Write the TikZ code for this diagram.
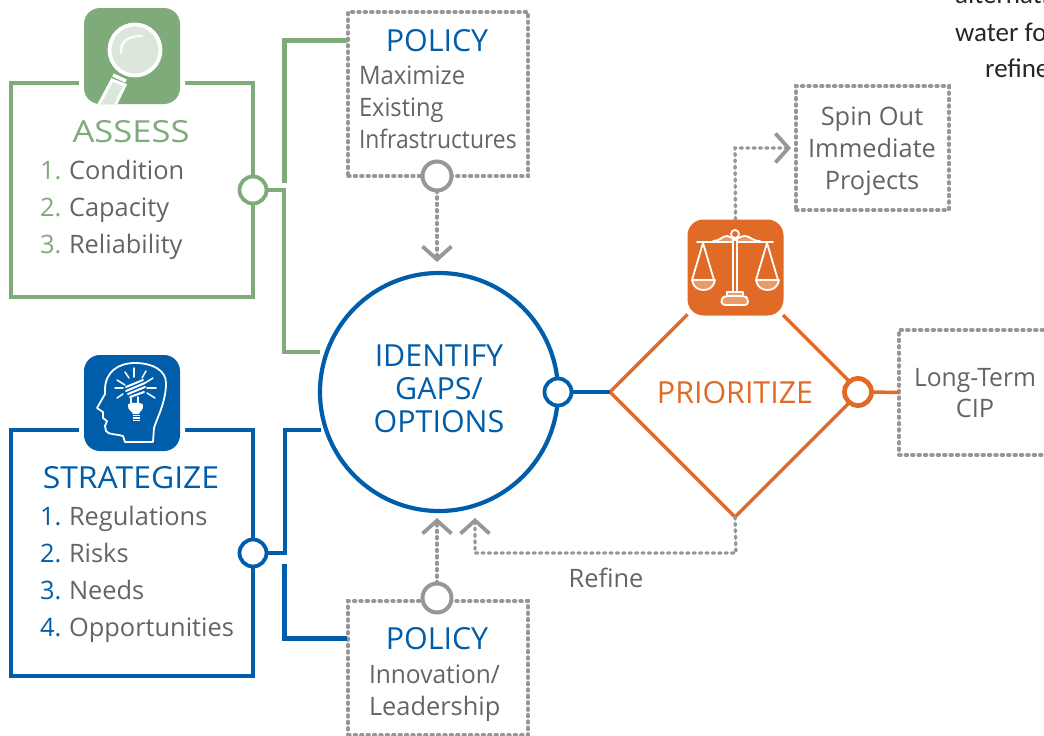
\documentclass[tikz,border=0pt]{standalone}
\usepackage{fontspec}
\setmainfont{Open Sans}
\newfontfamily\notefont{Carlito}
\usetikzlibrary{arrows.meta,shapes.geometric}
\definecolor{gr}{HTML}{7FAA7A}
\definecolor{bl}{HTML}{005DA9}
\definecolor{og}{HTML}{E06B26}
\definecolor{dg}{HTML}{97979A}
\definecolor{tx}{HTML}{636466}
\definecolor{lg}{HTML}{DCE7DC}
\definecolor{lo}{HTML}{EE9A68}
\tikzset{
 frame/.style={draw,line width=3.8pt,inner sep=0pt,outer sep=0pt,rectangle},
 dashbox/.style={draw=dg,line width=3.4pt,line cap=round,dash pattern=on 2pt off 4.4pt,inner sep=0pt,outer sep=0pt,rectangle},
 iconhalo/.style={fill=white,rounded corners=19pt,minimum size=106pt,inner sep=0pt,outer sep=0pt,rectangle},
 iconbox/.style={rounded corners=16pt,minimum size=96pt,inner sep=0pt,outer sep=0pt,rectangle},
 dot/.style={circle,draw,fill=white,inner sep=0pt,outer sep=0pt,minimum size=27pt,line width=3.8pt},
 graydot/.style={dot,draw=dg,minimum size=29pt,line width=4pt},
 conn/.style={line width=3.5pt},
 thickconn/.style={line width=5pt},
 dashconn/.style={draw=dg,line width=3.4pt,line cap=round,dash pattern=on 2pt off 4.4pt},
 barb/.style={-{Straight Barb[length=13pt,width=29pt,line width=3.8pt]}},
 body/.style={font=\fontsize{25.4}{30}\selectfont,text=tx,inner sep=0pt,outer sep=0pt},
 listrow/.style={body,anchor=base west},
 head/.style={font=\fontsize{30.4}{36}\selectfont,inner sep=0pt,outer sep=0pt,anchor=base},
 note/.style={font=\notefont\fontsize{27}{32}\selectfont,text=black!85,inner sep=0pt,anchor=base west},
 iconline/.style={draw=white,line width=1.8pt,line join=round,line cap=round},
}
\newcommand{\num}[2]{\makebox[29pt][l]{\textcolor{#1}{#2}}}
\begin{document}
\begin{tikzpicture}[x=1pt,y=-1pt]
\clip (0,0) rectangle (1044,736);
% boxes
\node[frame,draw=gr,minimum width=242pt,minimum height=214pt] (assessbox) at (132,190) {};
\node[frame,draw=bl,minimum width=242pt,minimum height=246pt] (stratbox) at (132,553) {};
\node[dashbox,minimum width=180pt,minimum height=164pt] (policya) at (438,94) {};
\node[dashbox,minimum width=180pt,minimum height=134pt] (policyb) at (438,668) {};
\node[dashbox,minimum width=153pt,minimum height=124pt] (spinbox) at (872.5,148) {};
\node[dashbox,minimum width=160pt,minimum height=125pt] (ciobox) at (979,392.5) {};
\node[circle,draw=bl,line width=4.2pt,fill=white,minimum size=238pt,inner sep=0pt,outer sep=0pt] (identify) at (439,392) {};
\node[diamond,aspect=1,draw=og,line width=3.5pt,inner sep=0pt,outer sep=0pt,minimum width=250pt,minimum height=250pt] (prio) at (735,392) {};
% dots
\node[dot,draw=gr] (adot) at (253,190) {};
\node[dot,draw=bl] (sdot) at (253,553) {};
\node[dot,draw=bl] (idot) at (558,392) {};
\node[dot,draw=og,line width=4.8pt] (pdot) at (858,392) {};
\node[graydot] (padot) at (437,176) {};
\node[graydot] (pbdot) at (437,598) {};
% icons
\node[iconhalo] (ahalo) at (132,56) {};
\node[iconbox,fill=gr] (aicon) at (132,56) {};
\node[iconhalo] (shalo) at (132,403) {};
\node[iconbox,fill=bl] (sicon) at (132,403) {};
\node[iconhalo] (phalo) at (735.5,267.5) {};
\node[iconbox,fill=og] (picon) at (735.5,267.5) {};
% named free ends
\coordinate (g1) at (284,190);
\coordinate (g2) at (284,352);
\coordinate (g3) at (320,352);
\coordinate (g4) at (284,183);
\coordinate (g5) at (284,40);
\coordinate (g6) at (347,40);
\coordinate (b1) at (285,553);
\coordinate (b2) at (285,430);
\coordinate (b3) at (321,430);
\coordinate (b4) at (284,564);
\coordinate (b5) at (284,638);
\coordinate (b6) at (347,638);
\coordinate (t1) at (437,262);
\coordinate (t2) at (437,518);
\coordinate (t3) at (475,518);
\coordinate (r1) at (736,553);
\coordinate (r2) at (475,553);
\coordinate (s1) at (735,148);
\coordinate (s2) at (791,148);
% connectors
\draw[conn,draw=gr] (adot.east) -- (g1) -- (g2) -- (g3);
\draw[thickconn,draw=gr] (g4) -- (g5) -- (g6);
\draw[conn,draw=bl] (sdot.east) -- (b1) -- (b2) -- (b3);
\draw[thickconn,draw=bl] (b4) -- (b5) -- (b6);
\draw[conn,draw=bl] (idot.east) -- (prio.west);
\draw[conn,draw=og] (pdot.east) -- (ciobox.west);
\draw[dashconn,barb] (padot.south) -- (t1);
\draw[dashconn,barb] (pbdot.north) -- (t2);
\draw[dashconn,barb] (prio.south) -- (r1) -- (r2) -- (t3);
\draw[dashconn,barb] (picon.north) -- (s1) -- (s2);
% magnifier
\begin{scope}
\clip[rounded corners=16pt] (84,8) rectangle (180,104);
\draw[white,line width=3pt,fill=lg] (112,80) -- (125,85) -- (113,110) -- (96,110) -- cycle;
\draw[white,line width=3.5pt] (113,75) -- (126,81);
\end{scope}
\draw[white,line width=3.8pt,fill=lg] (135,50) circle[radius=25.5];
\draw[white!92!lg,line width=2.2pt,line cap=round] (121,53) .. controls (120,42) and (127,36) .. (142,36);
% head
\draw[iconline] (153,442) -- (154,428) .. controls (157,418) and (166,402) .. (166,383)
  .. controls (166,370) and (152,363) .. (135,363) .. controls (118,363) and (105,372) .. (105,390)
  -- (105,394) -- (97,408) -- (103,412) -- (103,418) -- (107,421) -- (105,426) -- (106,431)
  .. controls (108,435) and (118,434) .. (123,436) -- (125,442) -- cycle;
\foreach \ax/\ay/\bx/\by in {134/368/134/377, 125/372/129/378, 146/371/142/378, 117/380/125/385, 153/378/145/383, 115/388/123/388, 156/388/147/388, 117/398/123/394, 155/398/147/393}{
 \draw[iconline,line width=1.5pt] (\ax,\ay) -- (\bx,\by);
}
\draw[iconline,line width=2pt] (126,387) -- (143,380);
\draw[iconline,line width=2pt] (126,391) -- (145,383);
\draw[iconline,line width=2pt] (128,394) -- (145,387);
\draw[iconline,line width=2pt] (130,397) -- (144,392);
\draw[iconline,line width=2pt] (131,398) -- (131,403);
\draw[iconline,line width=2pt] (138,397) -- (138,403);
\fill[white] (128,405) .. controls (128,402) and (143,402) .. (143,405) .. controls (144,410) and (139,412) .. (139,414) -- (133,414) .. controls (133,412) and (127,410) .. (128,405) -- cycle;
\foreach \yy in {415.5,418,420.5}{\draw[white,line width=1.4pt] (132.5,\yy) -- (139.5,\yy);}
% scales
\fill[lo] (713,242) .. controls (720,241) and (722,236) .. (727,236) .. controls (730,236) and (732,238) .. (735,240)
  .. controls (738,238) and (741,236) .. (745,236) .. controls (750,236) and (752,241) .. (760,242) -- cycle;
\draw[iconline] (713,241) .. controls (720,241) and (722,236) .. (727,236) .. controls (730,236) and (732,238) .. (735,240)
  .. controls (738,238) and (741,236) .. (745,236) .. controls (750,236) and (752,241) .. (760,241);
\draw[iconline] (697,242) -- (773,242);
\draw[iconline,fill=og] (733,240) rectangle (737,292);
\draw[iconline,fill=og] (735,234) circle[radius=4];
\draw[iconline] (692,280) -- (703,243) -- (714,280);
\draw[iconline] (756,280) -- (767,243) -- (778,280);
\fill[lo] (692,280) -- (715,280) .. controls (714,287) and (709,290) .. (703.5,290) .. controls (698,290) and (693,287) .. (692,280) -- cycle;
\fill[lo] (756,280) -- (779,280) .. controls (778,287) and (773,290) .. (767.5,290) .. controls (762,290) and (757,287) .. (756,280) -- cycle;
\draw[iconline] (692,280) -- (715,280) .. controls (714,287) and (709,290) .. (703.5,290) .. controls (698,290) and (693,287) .. (692,280);
\draw[iconline] (756,280) -- (779,280) .. controls (778,287) and (773,290) .. (767.5,290) .. controls (762,290) and (757,287) .. (756,280);
\draw[iconline,fill=lo] (727,292) rectangle (743,296);
\draw[iconline,fill=lo,rounded corners=3pt] (722,305) -- (721,299) -- (725,296) -- (745,296) -- (748,299) -- (748,305) -- cycle;
% texts
\node[head,text=gr] (assesslbl) at (131,142) {\scalebox{1.137}[1]{ASSESS}};
\node[listrow] (a1) at (40,179) {\num{gr}{1.}Condition};
\node[listrow] (a2) at (40,216) {\num{gr}{2.}Capacity};
\node[listrow] (a3) at (40,253) {\num{gr}{3.}Reliability};
\node[head,text=bl] (stratlbl) at (131,488) {\scalebox{1.05}[1]{STRATEGIZE}};
\node[listrow] (s1r) at (40,525) {\num{bl}{1.}Regulations};
\node[listrow] (s2r) at (40,562) {\num{bl}{2.}Risks};
\node[listrow] (s3r) at (40,599) {\num{bl}{3.}Needs};
\node[listrow] (s4r) at (40,636) {\num{bl}{4.}Opportunities};
\node[head,text=bl] (pal) at (437,51) {POLICY};
\node[listrow] (pa1) at (359,84) {\scalebox{0.94}[1]{Maximize}};
\node[listrow] (pa2) at (359,116) {\scalebox{0.93}[1]{Existing}};
\node[listrow] (pa3) at (359,148) {\scalebox{0.9}[1]{Infrastructures}};
\node[head,text=bl] (pbl) at (437,649) {POLICY};
\node[listrow] (pb1) at (369,683) {\scalebox{0.965}[1]{Innovation/}};
\node[listrow] (pb2) at (369,715) {Leadership};
\node[head,text=bl] (i1) at (439,366) {IDENTIFY};
\node[head,text=bl] (i2) at (439,399) {GAPS/};
\node[head,text=bl] (i3) at (439,432) {OPTIONS};
\node[head,text=og] (prl) at (735,403) {PRIORITIZE};
\node[body,anchor=base] (sp1) at (872,125) {Spin Out};
\node[body,anchor=base] (sp2) at (872,157) {Immediate};
\node[body,anchor=base] (sp3) at (872,189) {Projects};
\node[body,anchor=base] (c1) at (975,386) {\scalebox{0.97}[1]{Long-Term}};
\node[body,anchor=base] (c2) at (975,417) {CIP};
\node[body,anchor=base] (ref) at (606,587) {Refine};
\node[note] (n0) at (955,4) {alternati};
\node[note] (n1) at (955,41) {water fo};
\node[note] (n2) at (985,77) {refine};
\end{tikzpicture}
\end{document}
